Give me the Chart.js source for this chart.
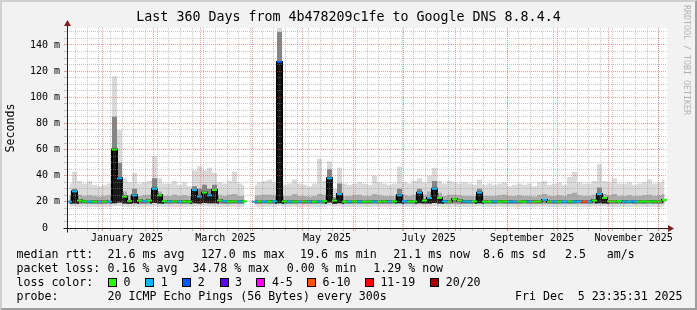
<!DOCTYPE html>
<html>
<head>
<meta charset="utf-8">
<script src="https://cdn.jsdelivr.net/npm/chart.js@4.4.1/dist/chart.umd.min.js"></script>
<style>
  body { margin: 0; background: #fff; }
  #wrap { position: relative; width: 697px; height: 310px; background: #f2f2f2; overflow: hidden;
          font-family: 'DejaVu Sans Mono', monospace; }
  #frame { position: absolute; left: 0; top: 0; width: 697px; height: 310px; box-sizing: border-box;
           border: 2px solid; border-color: #cfcfcf #9e9e9e #9e9e9e #cfcfcf; pointer-events: none; }
  .lg { position: absolute; font-size: 11.6px; line-height: 14px; white-space: pre; color: #000; }
  .box { position: absolute; width: 9px; height: 9px; box-sizing: border-box; border: 1px solid #000; }
  #mark { position: absolute; left: 682px; top: 5px; writing-mode: vertical-rl; font-size: 8.3px;
          color: #b3b3b3; white-space: pre; }
</style>
</head>
<body>
<div id="wrap">
  <canvas id="myChart" width="697" height="310"></canvas>
  <div id="mark">RRDTOOL / TOBI OETIKER</div>
  <div id="legend"></div>
  <div id="frame"></div>
</div>
<script>
// 120 columns of 3 days each, Dec 10 2024 -> Dec 5 2025
var median = [
  20.1, 28, 21, 20.3, 20.1, 20.2, 20.0, 20.2, 20.1, 60,
  38, 24, 20.5, 25, 21, 20.5, 21, 30, 25, 20.5,
  20.2, 20.3, 20.1, 20.4, 20.2, 29, 24, 27, 25, 29,
  21, 20.5, 20.2, 20.3, 20.2, 20.4, null, 20.1, 20.3, 20.1,
  20.2, 20.4, 127, 20.3, 20.1, 20.2, 20.1, 20.3, 20.2, 20.1,
  20.3, 20.5, 38, 21, 26, 20.2, 20.1, 20.3, 20.2, 20.1,
  20.3, 20.2, 20.1, 20.4, 20.2, 20.3, 25, 20.5, 20.2, 20.3,
  27, 21, 23, 30, 23, 20.4, 20.2, 22, 21, 20.3,
  20.2, 20.3, 27, 20.2, 20.1, 20.3, 20.2, 20.4, 20.2, 20.1,
  20.3, 20.2, 20.4, 20.2, 20.3, 21.5, 20.2, 20.3, 20.2, 20.1,
  20.3, 20.2, 20.4, 20.1, 20.2, 21, 26, 23, 20.4, 20.3,
  20.6, 20.2, 20.1, 20.3, 20.2, 20.3, 20.2, 20.4, 20.3, 21.5
];
var loss = [
  1, 1, 0, 0, 1, 0, 1, 0, 1, 0,
  1, 0, 0, 1, 0, 1, 0, 1, 0, 0,
  1, 0, 1, 0, 0, 1, 1, 0, 1, 0,
  0, 1, 0, 0, 1, 0, 0, 1, 0, 1,
  0, 1, 2, 0, 1, 0, 1, 0, 1, 0,
  1, 0, 1, 0, 1, 0, 1, 0, 1, 0,
  0, 1, 0, 0, 1, 0, 1, 1, 0, 0,
  1, 0, 1, 1, 0, 1, 0, 0, 0, 1,
  1, 0, 1, 0, 0, 1, 0, 0, 1, 1,
  0, 0, 1, 0, 0, 1, 0, 1, 0, 1,
  0, 1, 1, 6, 1, 0, 1, 0, 0, 0,
  0, 1, 1, 1, 0, 0, 0, 0, 0, 0
];
var smokeMax = [
  34, 43, 36, 34, 36, 33, 32, 33, 34, 116,
  75, 38, 35, 42, 34, 35, 36, 55, 38, 34,
  34, 36, 33, 35, 32, 44, 47, 44, 46, 42,
  35, 34, 36, 43, 34, 33, null, 33, 35, 36,
  37, 35, 170, 33, 34, 37, 34, 33, 32, 34,
  53, 36, 51, 30, 46, 34, 33, 34, 35, 34,
  33, 40, 35, 34, 33, 34, 47, 35, 34, 36,
  38, 35, 40, 46, 36, 34, 36, 35, 34, 35,
  34, 33, 37, 33, 34, 33, 34, 35, 32, 33,
  34, 33, 34, 32, 35, 36, 33, 34, 35, 33,
  39, 43, 35, 34, 34, 36, 49, 36, 35, 38,
  34, 34, 35, 33, 34, 35, 37, 34, 35, 37
];
var smokeHigh = [
  25, 30, 25.5, 24.5, 25, 24.5, 24, 24.5, 25, 85,
  50, 28, 25, 30, 24.5, 25, 25.5, 38, 28, 24.5,
  24.5, 25.5, 24.5, 25, 24.5, 32, 30, 33, 30, 33,
  25.5, 24.5, 25.5, 26, 24.5, 24.5, null, 24.5, 25, 25.5,
  25.5, 25, 150, 24.5, 24.5, 26, 24.5, 24.5, 24, 24.5,
  26, 25.5, 45, 23.5, 34, 24.5, 24.5, 25, 25.5, 24.5,
  24.5, 26, 25, 24.5, 24.5, 24.5, 30, 25.5, 24.5, 25.5,
  30, 25.5, 28, 36, 27, 24.5, 25.5, 25.5, 25, 24.5,
  24.5, 24.5, 30, 24.5, 24.5, 24.5, 25, 25.5, 24.5, 24.5,
  25, 24.5, 24.5, 24, 25.5, 26, 24.5, 24.5, 25, 24.5,
  26, 27, 25, 24.5, 24.5, 25.5, 31, 26, 25, 26,
  24.5, 24.5, 25, 24.5, 24.5, 25, 25.5, 24.5, 25, 26
];
var smokeLow = [
  18.6, 18.8, 18.5, 18.7, 18.6, 18.5, 18.4, 18.6, 18.7, 19,
  19.5, 18.8, 18.6, 18.9, 18.5, 18.6, 18.7, 19.2, 18.8, 18.6,
  18.5, 18.7, 18.6, 18.5, 18.6, 19, 18.8, 19.2, 19, 19,
  18.7, 18.6, 18.5, 18.7, 18.6, 18.5, null, 18.6, 18.5, 18.7,
  18.6, 18.5, 19, 18.4, 18.6, 18.5, 18.7, 18.6, 18.5, 18.6,
  18.7, 18.6, 19.5, 18.6, 19, 18.5, 18.6, 18.7, 18.5, 18.6,
  18.5, 18.7, 18.6, 18.5, 18.6, 18.7, 19, 18.6, 18.5, 18.6,
  19, 18.7, 18.8, 19.2, 18.8, 18.6, 18.5, 18.7, 18.6, 18.5,
  18.6, 18.5, 19, 18.6, 18.5, 18.6, 18.7, 18.5, 18.6, 18.5,
  18.6, 18.7, 18.5, 18.6, 18.5, 18.8, 18.6, 18.5, 18.6, 18.7,
  18.5, 18.6, 18.7, 18.5, 18.6, 18.7, 19, 18.8, 18.6, 18.5,
  18.6, 18.5, 18.7, 18.6, 18.5, 18.6, 18.7, 18.5, 18.6, 18.8
];
var smokeMin = [
  16, 16.4, 15.8, 16.2, 15.9, 16.1, 16.3, 15.8, 16.1, 16.6,
  16.8, 16.2, 15.9, 16.3, 16, 15.8, 16.2, 16.6, 16.3, 16,
  15.8, 16.1, 16, 15.9, 16.2, 16.5, 16.4, 16.6, 16.5, 16.4,
  16.1, 15.9, 16, 16.2, 15.8, 16, null, 16.1, 15.9, 16,
  16.2, 15.9, 16.8, 15.8, 16, 16.2, 15.9, 16.1, 16, 15.8,
  16.1, 16, 16.9, 16.2, 16.5, 15.9, 16, 16.2, 15.8, 16,
  16.1, 16.3, 15.9, 16, 16.2, 15.9, 16.4, 16.1, 16, 15.8,
  16.5, 16.1, 16.3, 16.7, 16.3, 16, 15.9, 16.2, 16, 16.1,
  15.9, 16, 16.4, 16.1, 15.8, 16, 16.2, 15.9, 16.1, 16,
  15.8, 16.1, 16, 15.9, 16.2, 16.3, 16, 15.8, 16.1, 15.9,
  16.2, 16.3, 16, 15.9, 16.1, 16.2, 16.6, 16.4, 16, 15.9,
  16.1, 15.8, 16, 16.2, 15.9, 16.1, 16.3, 16, 15.8, 16.4
];

var yLabelValues = [0, 20, 40, 60, 80, 100, 120, 140];
var yLabels = ['0  ', '20 m', '40 m', '60 m', '80 m', '100 m', '120 m', '140 m'];
var monthLabels = ['January 2025', 'March 2025', 'May 2025', 'July 2025', 'September 2025', 'November 2025'];
var monthLabelMonths = [1, 3, 5, 7, 9, 11];

var lossNames = ['0', '1', '2', '3', '4-5', '6-10', '11-19', '20/20'];
var lossColors = ['#26ff00', '#00b8ff', '#0059ff', '#5e00ff', '#ff00ff', '#ff5500', '#ff0000', '#a10000'];

var rttStats = ['median rtt:', '21.6 ms avg', '127.0 ms max', '19.6 ms min', '21.1 ms now', '8.6 ms sd', '2.5', 'am/s'];
var lossStats = ['packet loss:', '0.16 % avg', '34.78 % max', '0.00 % min', '1.29 % now'];
var probeText = ['probe:', '20 ICMP Echo Pings (56 Bytes) every 300s'];
var stampText = 'Fri Dec  5 23:35:31 2025';

// ---- time axis helpers ----
var startMs = Date.UTC(2024, 11, 10, 23, 35, 31);
function dayOf(y, m, d) { return (Date.UTC(y, m - 1, d) - startMs) / 864e5; }

var colDays = 3;
var colCenters = median.map(function (v, i) { return i * colDays + colDays / 2; });

function lossBin(n) {
  if (n <= 3) return n;
  if (n <= 5) return 4;
  if (n <= 10) return 5;
  if (n <= 19) return 6;
  return 7;
}

// x ticks: weekly minor lines, monthly major lines, mid-month labels
var xTicks = [];
for (var d = dayOf(2024, 12, 16); d <= 360; d += 7) xTicks.push({ value: d, kind: 'minor', label: '' });
for (var m = 1; m <= 12; m++) xTicks.push({ value: dayOf(2025, m, 1), kind: 'major', label: '' });
monthLabels.forEach(function (t, k) {
  xTicks.push({ value: dayOf(2025, monthLabelMonths[k], 16), kind: 'label', label: t });
});
xTicks.sort(function (a, b) { return a.value - b.value; });

var yTicks = [];
for (var v = 0; v <= 150; v += 5) yTicks.push(v);

var gridMinor = 'rgba(143,143,143,0.5)';
var gridMajor = 'rgba(222,79,79,0.55)';

var frame = {
  id: 'frame',
  beforeDraw: function (c) {
    var a = c.chartArea, x = c.ctx;
    x.save();
    x.fillStyle = '#ffffff';
    x.fillRect(a.left, a.top, a.right - a.left, a.bottom - a.top);
    x.restore();
  },
  afterDraw: function (c) {
    var a = c.chartArea, x = c.ctx;
    var L = Math.round(a.left) + 0.5, B = Math.round(a.bottom) + 0.5;
    x.save();
    x.strokeStyle = '#1f1f1f';
    x.lineWidth = 1;
    x.beginPath();
    x.moveTo(L - 4, B); x.lineTo(a.right + 3, B);
    x.moveTo(L, B + 4); x.lineTo(L, a.top - 3);
    x.stroke();
    x.fillStyle = '#801f1f';
    x.beginPath();
    x.moveTo(L - 3.5, a.top - 2); x.lineTo(L + 3.5, a.top - 2); x.lineTo(L, a.top - 8);
    x.closePath(); x.fill();
    x.beginPath();
    x.moveTo(a.right + 1, B - 3.5); x.lineTo(a.right + 1, B + 3.5); x.lineTo(a.right + 7, B);
    x.closePath(); x.fill();
    x.restore();
  }
};

Chart.defaults.font.family = "'DejaVu Sans Mono', monospace";
Chart.defaults.color = '#000';

var smokeBase = { pointRadius: 0, borderWidth: 0, stepped: 'middle', spanGaps: false };

function isSpike(arr, c, lim) {
  var a = arr[c.p0DataIndex], b = arr[c.p1DataIndex];
  return (a !== null && a > lim) || (b !== null && b > lim);
}

var ctx = document.getElementById('myChart').getContext('2d');
var myChart = new Chart(ctx, {
  type: 'line',
  data: {
    labels: colCenters,
    datasets: [
      Object.assign({ data: smokeMin, fill: false, order: 5 }, smokeBase),
      Object.assign({ data: smokeMax, fill: { target: 0 }, backgroundColor: '#dadada', order: 4 }, smokeBase),
      Object.assign({ data: smokeLow, fill: false, order: 3 }, smokeBase),
      Object.assign({
        data: smokeHigh, fill: { target: 2 }, backgroundColor: '#ababab', order: 2,
        segment: { backgroundColor: function (c) { return isSpike(smokeHigh, c, 29) ? '#858585' : undefined; } }
      }, smokeBase),
      {
        data: median,
        order: 1,
        stepped: 'middle',
        spanGaps: false,
        borderColor: '#000',
        borderWidth: 2,
        fill: { target: 2 },
        backgroundColor: '#8a8a8a',
        segment: { backgroundColor: function (c) { return isSpike(median, c, 22.5) ? '#1a1a1a' : undefined; } },
        pointStyle: 'line',
        pointRadius: 2.5,
        pointBorderWidth: 2,
        pointBorderColor: function (c) { return lossColors[lossBin(loss[c.dataIndex])]; }
      }
    ]
  },
  options: {
    responsive: false,
    animation: false,
    devicePixelRatio: 1,
    events: [],
    layout: { padding: 0 },
    plugins: {
      legend: { display: false },
      tooltip: { enabled: false },
      //Chart title
      title: {
        display: true,
        text: 'Last 360 Days from 4b478209c1fe to Google DNS 8.8.4.4',
        font: { size: 13.3, weight: 'normal' },
        color: '#000',
        padding: { top: 10, bottom: 2 }
      }
    },
    scales: {
      x: {
        type: 'linear',
        min: 0,
        max: 360,
        afterFit: function (s) { s.height = 82; },
        afterBuildTicks: function (s) { s.ticks = xTicks.map(function (t) { return { value: t.value }; }); },
        ticks: {
          autoSkip: false,
          maxRotation: 0,
          padding: 1,
          font: { size: 10 },
          color: '#000',
          callback: function (v, i) { return xTicks[i] ? xTicks[i].label : ''; }
        },
        grid: {
          z: 1,
          tickLength: 3,
          color: function (c) {
            var t = xTicks[c.index];
            if (!t || t.kind === 'label') return 'rgba(0,0,0,0)';
            return t.kind === 'major' ? gridMajor : gridMinor;
          },
          tickColor: function (c) {
            var t = xTicks[c.index];
            if (!t || t.kind === 'label') return 'rgba(0,0,0,0)';
            return t.kind === 'major' ? gridMajor : gridMinor;
          }
        },
        border: { display: false, dash: [1, 1] }
      },
      y: {
        min: 0,
        max: 153,
        afterFit: function (s) { s.width = 67; },
        afterBuildTicks: function (s) { s.ticks = yTicks.map(function (v) { return { value: v }; }); },
        ticks: {
          autoSkip: false,
          padding: 4,
          font: { size: 10 },
          color: '#000',
          callback: function (v) {
            var k = yLabelValues.indexOf(v);
            return k >= 0 ? yLabels[k] : '';
          }
        },
        grid: {
          z: 1,
          tickLength: 3,
          color: function (c) { return c.tick && c.tick.value % 20 === 0 ? gridMajor : gridMinor; },
          tickColor: function (c) { return c.tick && c.tick.value % 20 === 0 ? gridMajor : gridMinor; }
        },
        border: { display: false, dash: [1, 1] },
        title: {
          display: true,
          text: 'Seconds',
          font: { size: 11.6 },
          color: '#000',
          padding: { top: 4, bottom: 0 }
        }
      },
      // empty right-hand strip so the plot ends at 667 px and the title stays centred
      yr: {
        display: true,
        position: 'right',
        afterFit: function (s) { s.width = 30; },
        ticks: { display: false },
        grid: { display: false, drawTicks: false },
        border: { display: false }
      }
    }
  },
  plugins: [frame]
});

// ---- text legend under the graph ----
var legend = document.getElementById('legend');
function put(text, x, yc) {
  var s = document.createElement('div');
  s.className = 'lg';
  s.textContent = text;
  s.style.left = x + 'px';
  s.style.top = (yc - 7) + 'px';
  legend.appendChild(s);
  return s;
}
var rttX = [16.5, 107.6, 200.9, 300, 393.3, 483, 565, 606.7];
rttStats.forEach(function (t, i) { put(t, rttX[i], 254); });
var lossX = [16.5, 107.6, 192.4, 286.7, 373.3];
lossStats.forEach(function (t, i) { put(t, lossX[i], 268); });
put('loss color:', 16.5, 282);
var boxX = [108, 145.3, 182.2, 219.6, 256.4, 307.1, 364.9, 430.2];
lossNames.forEach(function (n, i) {
  var b = document.createElement('div');
  b.className = 'box';
  b.style.left = boxX[i] + 'px';
  b.style.top = '278px';
  b.style.background = lossColors[i];
  legend.appendChild(b);
  put(n, boxX[i] + 15.5, 282);
});
put(probeText[0], 16.5, 296);
put(probeText[1], 107.6, 296);
var st = put(stampText, 0, 296);
st.style.left = (683 - st.offsetWidth) + 'px';
</script>
</body>
</html>
